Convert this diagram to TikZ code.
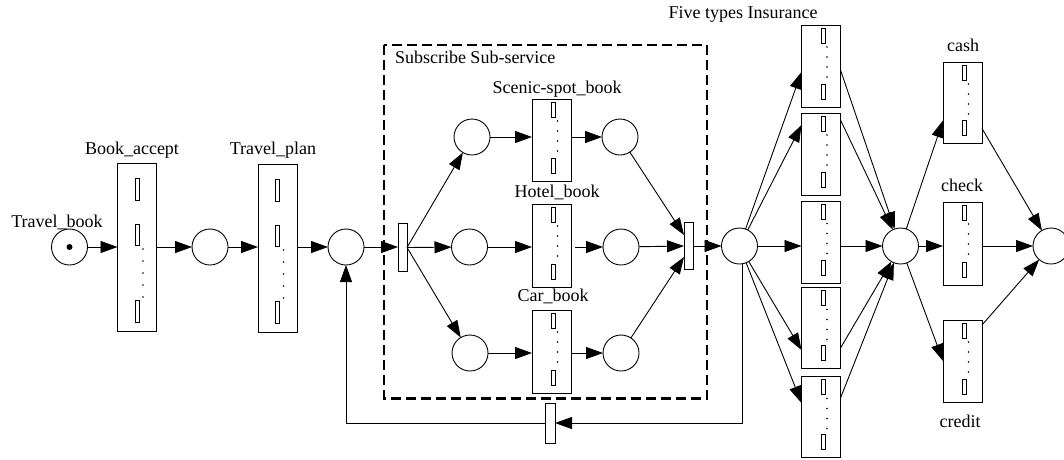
\documentclass[tikz,border=0pt]{standalone}
\usepackage{fontspec}
\setmainfont{Liberation Serif}
\usetikzlibrary{arrows.meta,calc}
\tikzset{
  x=1pt, y=-1pt,
  every node/.style={inner sep=0pt, outer sep=0pt},
  place/.style={circle, draw, minimum size=36pt, line width=0.9pt},
  tbox/.style={rectangle, draw, line width=0.9pt, minimum width=39pt},
  bar/.style={rectangle, draw, line width=0.9pt, minimum width=9pt, minimum height=47pt},
  lab/.style={font=\fontsize{18}{20}\selectfont},
  arr/.style={-{Triangle[length=17pt,width=12pt]}, line width=0.9pt},
  inmark/.style={line width=0.8pt},
  subnet/.style={line width=2.2pt, dash pattern=on 10pt off 5pt},
}
\newcommand\smallmarks[1]{%
  \draw[inmark] ($(#1.north)+(0,3)$) rectangle ($(#1.north)+(4,18)$);
  \draw[inmark] ($(#1.south)+(0,-8)$) rectangle ($(#1.south)+(4,-23)$);
  \foreach \d in {22,32,42,52} \fill ($(#1.north)+(6,\d)$) circle (0.8);
}
\newcommand\bigmarks[1]{%
  \draw[inmark] ($(#1.north)+(-2,15)$) rectangle ($(#1.north)+(2,37)$);
  \draw[inmark] ($(#1.north)+(-2,61)$) rectangle ($(#1.north)+(2,82)$);
  \draw[inmark] ($(#1.north)+(-2,137)$) rectangle ($(#1.north)+(2,159)$);
  \foreach \d in {86,98,110,122,134} \fill ($(#1.north)+(6,\d)$) circle (0.8);
}
\begin{document}
\begin{tikzpicture}
\useasboundingbox (0,0) rectangle (1064,459);
% subnet frame
\draw[subnet] (384,45) rectangle (707,398.5);
\node[lab, anchor=west] (subl) at (395,57) {Subscribe Sub-service};

% places and transitions
\node[place] (tb) at (69.5,247) {};
\fill (tb) circle (3);
\node[lab] (tbl) at (57,222) {Travel\_book};
\node[tbox, minimum height=168pt] (ba) at (137,247) {};
\node[lab] (bal) at (132,150) {Book\_accept};
\node[place] (p2) at (210,247) {};
\node[tbox, minimum height=168pt] (tp) at (277.5,248) {};
\node[lab] (tpl) at (273,150) {Travel\_plan};
\node[place] (p3) at (346,247) {};
\node[bar, minimum height=48pt] (fork) at (402.5,247.5) {};
\node[place] (pu) at (472,137) {};
\node[place] (pm) at (469.5,247) {};
\node[place] (pl) at (470,353) {};
\node[tbox, minimum height=82pt] (scenic) at (551.5,140) {};
\node[tbox, minimum height=83pt] (hotel) at (551.5,245.5) {};
\node[tbox, minimum height=83pt] (car) at (551.5,351.5) {};
\node[lab] (scl) at (557,89) {Scenic-spot\_book};
\node[lab] (hol) at (557,192) {Hotel\_book};
\node[lab] (cal) at (553,296) {Car\_book};
\node[place] (pur) at (620,137) {};
\node[place] (pmr) at (621,247) {};
\node[place] (plr) at (621,353) {};
\node[bar] (join) at (688.5,246) {};
\node[place] (p4) at (739.5,246) {};
\node[tbox, minimum height=82pt] (ins1) at (821,66) {};
\node[tbox, minimum height=82pt] (ins2) at (821,154) {};
\node[tbox, minimum height=82pt] (ins3) at (821,242.5) {};
\node[tbox, minimum height=81pt] (ins4) at (821,328) {};
\node[tbox, minimum height=81pt] (ins5) at (821,417) {};
\node[lab] (insl) at (743,14) {Five types Insurance};
\node[place] (p5) at (900.5,246) {};
\node[tbox, minimum height=81pt] (cash) at (962.5,102.5) {};
\node[tbox, minimum height=83pt] (check) at (962.5,243.5) {};
\node[tbox, minimum height=82pt] (credit) at (962.5,361) {};
\node[lab] (cashl) at (963,45) {cash};
\node[lab] (checkl) at (962,185) {check};
\node[lab] (creditl) at (960,421) {credit};
\node[place] (pend) at (1051,246) {};
\node[bar, minimum width=10pt, minimum height=40pt] (lt) at (550,423) {};

% inner marks
\bigmarks{ba}
\bigmarks{tp}
\foreach \b in {scenic,hotel,car,ins1,ins2,ins3,ins4,ins5,cash,check,credit} {\smallmarks{\b}}

% arcs
\draw[arr] (tb) -- (ba);
\draw[arr] (ba) -- (p2);
\draw[arr] (p2) -- (p2 -| tp.west);
\draw[arr] (tp.east |- p3) -- (p3);
\draw[arr] (p3) -- (p3 -| fork.west);
\draw[arr] (fork.east) -- (pu);
\draw[arr] (fork.east) -- (pm);
\draw[arr] (fork.east) -- (pl);
\draw[arr] (pu) -- (pu -| scenic.west);
\draw[arr] (pm) -- (pm -| hotel.west);
\draw[arr] (pl) -- (pl -| car.west);
\draw[arr] (scenic.east |- pur) -- (pur);
\draw[arr] ($(hotel.east |- pmr)+(4,0)$) -- (pmr);
\draw[arr] (car.east |- plr) -- (plr);
\draw[arr] (pur) -- ($(join.west)+(0,-11)$);
\draw[arr] (pmr) -- (join.west);
\draw[arr] (plr) -- ($(join.west)+(0,11)$);
\draw[arr] (join.east) -- (p4);
\draw[arr] (p4) -- ($(ins1.west)+(0,6)$);
\draw[arr] (p4) -- ($(ins2.west)+(0,-29)$);
\draw[arr] (p4) -- (p4 -| ins3.west);
\draw[arr] (p4) -- ($(ins4.west)+(0,22)$);
\draw[arr] (p4) -- ($(ins5.west)+(0,-14)$);
\draw[arr] ($(ins1.east)+(0,4)$) -- (p5);
\draw[arr] ($(ins2.east)+(0,-34)$) -- (p5);
\draw[arr] (ins3.east |- p5) -- (p5);
\draw[arr] ($(ins4.east)+(0,20)$) -- (p5);
\draw[arr] ($(ins5.east)+(0,-19)$) -- (p5);
\draw[arr] (p5) -- ($(cash.west)+(0,18)$);
\draw[arr] (p5) -- (p5 -| check.west);
\draw[arr] (p5) -- (credit.west);
\draw[arr] ($(cash.east)+(0,26)$) -- (pend);
\draw[arr] (check.east |- pend) -- (pend);
\draw[arr] ($(credit.east)+(0,-36)$) -- (pend);
% feedback loop
\draw[arr] ($(p4.south)+(2.5,0)$) |- (lt.east);
\draw[arr] (lt.west) -| (p3.south);
\end{tikzpicture}
\end{document}
